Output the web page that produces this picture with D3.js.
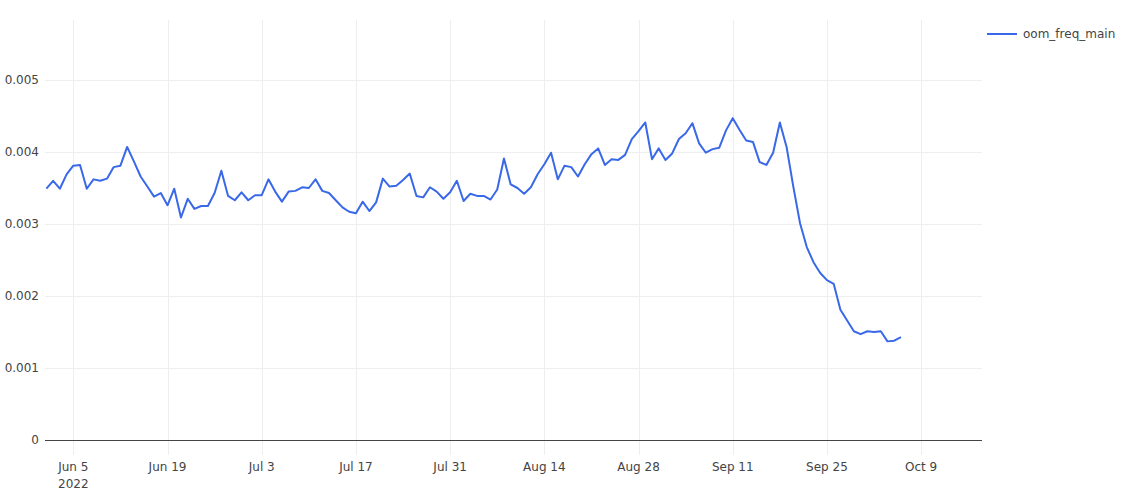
<!DOCTYPE html>
<html lang="en">
<head>
<meta charset="UTF-8">
<title>oom_freq_main</title>
<script src="https://d3js.org/d3.v7.min.js"></script>
<style>
    body { margin: 0; background: #fff; }
    text { font-family: "DejaVu Sans", Verdana, sans-serif; font-size: 12px; fill: #444; }
    .grid line { stroke: #eee; stroke-width: 1px; shape-rendering: crispEdges; }
    .line { fill: none; stroke: #3968e8; stroke-width: 2px; stroke-linejoin: round; }
</style>
</head>
<body>
<div id="chart"></div>
<script>
// daily values, Jun 1 .. Oct 6 2022
const startDate = "2022-06-01";
const juneVals = [0.00349, 0.00360, 0.00349, 0.00369, 0.00381, 0.00382, 0.00349, 0.00362, 0.00360, 0.00363,
                  0.00379, 0.00381, 0.00407, 0.00387, 0.00366, 0.00352, 0.00338, 0.00343, 0.00326, 0.00349,
                  0.00309, 0.00335, 0.00321, 0.00325, 0.00325, 0.00343, 0.00374, 0.00339, 0.00333, 0.00344];
const julyVals = [0.00333, 0.00340, 0.00340, 0.00362, 0.00345, 0.00331, 0.00345, 0.00346, 0.00351, 0.00350,
                  0.00362, 0.00346, 0.00343, 0.00333, 0.00323, 0.00317, 0.00315, 0.00331, 0.00318, 0.00330,
                  0.00363, 0.00352, 0.00353, 0.00361, 0.00370, 0.00339, 0.00337, 0.00351, 0.00345, 0.00335,
                  0.00344];
const augVals  = [0.00360, 0.00332, 0.00342, 0.00339, 0.00339, 0.00334, 0.00348, 0.00391, 0.00355, 0.00350,
                  0.00342, 0.00351, 0.00369, 0.00383, 0.00399, 0.00362, 0.00381, 0.00379, 0.00366, 0.00383,
                  0.00397, 0.00405, 0.00382, 0.00390, 0.00389, 0.00396, 0.00418, 0.00429, 0.00441, 0.00390,
                  0.00405];
const sepVals  = [0.00389, 0.00398, 0.00418, 0.00426, 0.00440, 0.00412, 0.00399, 0.00404, 0.00406, 0.00430,
                  0.00447, 0.00431, 0.00416, 0.00414, 0.00386, 0.00382, 0.00399, 0.00441, 0.00407, 0.00352,
                  0.00301, 0.00268, 0.00247, 0.00232, 0.00222, 0.00217, 0.00181, 0.00166, 0.00151, 0.00147];
const octVals  = [0.00151, 0.00150, 0.00151, 0.00137, 0.00138, 0.00143];

const seriesName = "oom_freq_main";
const xTicks = ["2022-06-05", "2022-06-19", "2022-07-03", "2022-07-17", "2022-07-31",
                "2022-08-14", "2022-08-28", "2022-09-11", "2022-09-25", "2022-10-09"];
const yTicks = [0, 0.001, 0.002, 0.003, 0.004, 0.005];

const parse = d3.utcParse("%Y-%m-%d");
const values = [].concat(juneVals, julyVals, augVals, sepVals, octVals);
const data = values.map((v, i) => ({ date: d3.utcDay.offset(parse(startDate), i), value: v }));

const width = 1129, height = 496;
const margin = { top: 20, right: 147, bottom: 41, left: 45 };

const x = d3.scaleUtc()
    .domain([new Date(Date.UTC(2022, 4, 31, 19)), new Date(Date.UTC(2022, 9, 18, 1))])
    .range([margin.left, width - margin.right]);
const y = d3.scaleLinear()
    .domain([-0.000208, 0.005833])
    .range([height - margin.bottom, margin.top]);

const svg = d3.select("#chart").append("svg")
    .attr("width", width)
    .attr("height", height);

// grid
const grid = svg.append("g").attr("class", "grid");
grid.selectAll(".vx").data(xTicks.map(parse)).enter().append("line")
    .attr("x1", d => Math.round(x(d)) + 0.5).attr("x2", d => Math.round(x(d)) + 0.5)
    .attr("y1", margin.top).attr("y2", height - margin.bottom);
grid.selectAll(".hy").data(yTicks.filter(d => d !== 0)).enter().append("line")
    .attr("x1", margin.left).attr("x2", width - margin.right)
    .attr("y1", d => Math.round(y(d)) + 0.5).attr("y2", d => Math.round(y(d)) + 0.5);

// zero line
svg.append("line")
    .attr("x1", margin.left).attr("x2", width - margin.right)
    .attr("y1", Math.round(y(0)) + 0.5).attr("y2", Math.round(y(0)) + 0.5)
    .attr("stroke", "#444").attr("stroke-width", 1)
    .attr("shape-rendering", "crispEdges");

// y labels
svg.append("g").selectAll("text").data(yTicks).enter().append("text")
    .attr("x", 39)
    .attr("y", d => y(d))
    .attr("dy", "0.35em")
    .attr("text-anchor", "end")
    .text(d => d === 0 ? "0" : d3.format(".3f")(d));

// x labels
const fmt = d3.utcFormat("%b %-d");
const xl = svg.append("g").selectAll("text").data(xTicks.map(parse)).enter().append("text")
    .attr("x", d => x(d))
    .attr("y", 471)
    .attr("text-anchor", "middle")
    .text(d => fmt(d));
svg.append("text")
    .attr("x", x(parse(xTicks[0])))
    .attr("y", 488)
    .attr("text-anchor", "middle")
    .text("2022");

// line
svg.append("path")
    .datum(data)
    .attr("class", "line")
    .attr("d", d3.line().x(d => x(d.date)).y(d => y(d.value)));

// legend
const legend = svg.append("g").attr("transform", "translate(987,34)");
legend.append("line")
    .attr("x1", 0).attr("x2", 30).attr("y1", 0).attr("y2", 0)
    .attr("stroke", "#3968e8").attr("stroke-width", 2);
legend.append("text")
    .attr("x", 36).attr("y", 0).attr("dy", "0.35em")
    .text(seriesName);
</script>
</body>
</html>
